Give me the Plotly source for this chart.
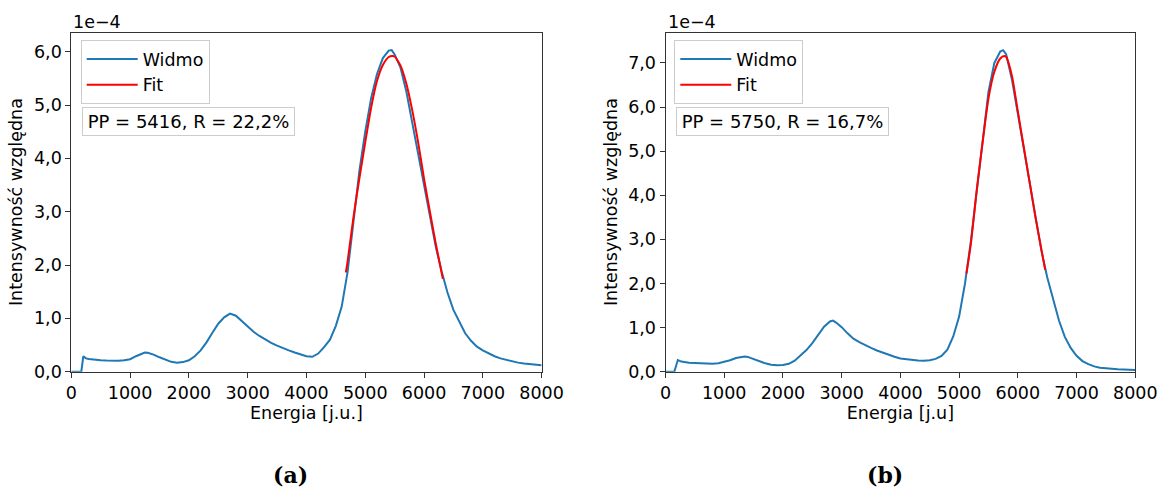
import plotly.graph_objects as go

# widmo (a) - energia [j.u.] i intensywnosc w jednostkach 1e-4
energia_a = [0, 170, 205, 250, 300, 400, 500, 600, 700, 800, 900, 1000, 1100, 1200, 1250, 1300,
             1400, 1500, 1600, 1700, 1800, 1900, 2000, 2100, 2200, 2300, 2400, 2500, 2600, 2700,
             2800, 2900, 3000, 3100, 3200, 3300, 3400, 3500, 3600, 3700, 3800, 3900, 4000, 4100,
             4200, 4300, 4400, 4500, 4600, 4700, 4800, 4900, 5000, 5100, 5200, 5300, 5400, 5450,
             5500, 5600, 5700, 5800, 5900, 6000, 6100, 6200, 6300, 6400, 6500, 6600, 6700, 6800,
             6900, 7000, 7100, 7200, 7300, 7400, 7500, 7600, 7700, 7800, 7900, 8000]
widmo_a = [0, 0, 0.29, 0.25, 0.24, 0.225, 0.215, 0.21, 0.205, 0.205, 0.215, 0.235, 0.29, 0.345, 0.36, 0.355,
           0.32, 0.27, 0.22, 0.185, 0.17, 0.18, 0.215, 0.29, 0.40, 0.55, 0.73, 0.90, 1.02, 1.09,
           1.05, 0.95, 0.84, 0.75, 0.67, 0.60, 0.54, 0.49, 0.44, 0.40, 0.36, 0.32, 0.29, 0.28,
           0.34, 0.46, 0.60, 0.86, 1.22, 1.87, 2.82, 3.76, 4.50, 5.13, 5.58, 5.88, 6.02, 6.03,
           5.95, 5.70, 5.25, 4.68, 4.10, 3.50, 2.90, 2.34, 1.88, 1.48, 1.16, 0.93, 0.72, 0.58,
           0.47, 0.40, 0.34, 0.29, 0.25, 0.22, 0.19, 0.17, 0.155, 0.14, 0.13, 0.12]

fit_a_x = [4670, 4700, 4800, 4900, 5000, 5100, 5200, 5300, 5400, 5460, 5500, 5600, 5700, 5800,
           5900, 6000, 6100, 6200, 6320]
fit_a_y = [1.86, 2.07, 2.90, 3.62, 4.30, 4.95, 5.45, 5.75, 5.90, 5.92, 5.91, 5.74, 5.40, 4.90,
           4.30, 3.62, 3.00, 2.40, 1.74]

# widmo (b)
energia_b = [0, 150, 210, 270, 400, 500, 600, 700, 800, 900, 1000, 1100, 1200, 1300, 1350, 1400,
             1500, 1600, 1700, 1800, 1900, 2000, 2100, 2200, 2300, 2400, 2500, 2600, 2700, 2800,
             2850, 2900, 3000, 3100, 3200, 3300, 3400, 3500, 3600, 3700, 3800, 3900, 4000, 4100,
             4200, 4300, 4400, 4500, 4600, 4700, 4800, 4900, 5000, 5100, 5200, 5300, 5400, 5500,
             5600, 5700, 5750, 5800, 5900, 6000, 6100, 6200, 6300, 6400, 6500, 6600, 6700, 6800,
             6900, 7000, 7100, 7200, 7300, 7400, 7500, 7600, 7700, 7800, 7900, 8000]
widmo_b = [0, 0, 0.265, 0.23, 0.205, 0.195, 0.19, 0.185, 0.18, 0.19, 0.22, 0.26, 0.31, 0.34, 0.345, 0.335,
           0.29, 0.23, 0.19, 0.16, 0.145, 0.15, 0.18, 0.25, 0.36, 0.49, 0.65, 0.83, 1.02, 1.14,
           1.16, 1.12, 1.01, 0.87, 0.75, 0.67, 0.60, 0.54, 0.48, 0.43, 0.38, 0.34, 0.30, 0.28,
           0.265, 0.255, 0.25, 0.26, 0.29, 0.36, 0.50, 0.80, 1.25, 2.00, 2.96, 4.10, 5.35, 6.35,
           7.00, 7.26, 7.29, 7.20, 6.62, 5.83, 5.10, 4.32, 3.50, 2.75, 2.14, 1.62, 1.16, 0.79,
           0.54, 0.36, 0.24, 0.17, 0.12, 0.09, 0.075, 0.065, 0.055, 0.05, 0.045, 0.04]

fit_b_x = [5125, 5200, 5300, 5400, 5500, 5600, 5700, 5770, 5800, 5900, 6000, 6100, 6200, 6300,
           6400, 6465]
fit_b_y = [2.23, 2.90, 4.12, 5.20, 6.20, 6.80, 7.10, 7.16, 7.14, 6.70, 5.90, 5.10, 4.30, 3.50,
           2.78, 2.31]

x_ticks = [0, 1000, 2000, 3000, 4000, 5000, 6000, 7000, 8000]
y_ticks_a = [0, 1, 2, 3, 4, 5, 6]
y_ticks_b = [0, 1, 2, 3, 4, 5, 6, 7]
y_labels_a = ["0,0", "1,0", "2,0", "3,0", "4,0", "5,0", "6,0"]
y_labels_b = ["0,0", "1,0", "2,0", "3,0", "4,0", "5,0", "6,0", "7,0"]
opisy = ["PP = 5416, R = 22,2%", "PP = 5750, R = 16,7%"]

FONT = "DejaVu Sans"
FS = 17.5
BLUE = "#1f77b4"

fig = go.Figure()

fig.add_trace(go.Scatter(x=energia_a, y=widmo_a, mode="lines", name="Widmo",
                         line=dict(color=BLUE, width=2), xaxis="x", yaxis="y", legend="legend"))
fig.add_trace(go.Scatter(x=fit_a_x, y=fit_a_y, mode="lines", name="Fit",
                         line=dict(color="red", width=2, shape="spline", smoothing=0.6),
                         xaxis="x", yaxis="y", legend="legend"))
fig.add_trace(go.Scatter(x=energia_b, y=widmo_b, mode="lines", name="Widmo",
                         line=dict(color=BLUE, width=2), xaxis="x2", yaxis="y2", legend="legend2"))
fig.add_trace(go.Scatter(x=fit_b_x, y=fit_b_y, mode="lines", name="Fit",
                         line=dict(color="red", width=2, shape="spline", smoothing=0.6),
                         xaxis="x2", yaxis="y2", legend="legend2"))

W, H = 1160, 489
dom_y = [1 - 371.7 / H, 1 - 32.5 / H]

axis_common = dict(showline=True, linecolor="#333", linewidth=1, mirror=True, ticks="outside",
                   ticklen=5, tickcolor="#333", showgrid=False, zeroline=False, automargin=False,
                   tickfont=dict(family=FONT, size=FS, color="black"))

legend_common = dict(yanchor="top", xanchor="left", y=1 - 40 / H,
                     bgcolor="rgba(255,255,255,0.8)", bordercolor="#cccccc", borderwidth=1,
                     itemwidth=51, font=dict(family=FONT, size=FS))

fig.update_layout(
    width=W, height=H,
    margin=dict(l=0, r=0, t=0, b=0),
    paper_bgcolor="white", plot_bgcolor="white",
    font=dict(family=FONT, size=FS, color="black"),
    xaxis=dict(domain=[71.3 / W, 541.6 / W], range=[0, 8000], anchor="y",
               tickvals=x_ticks, ticktext=[str(t) for t in x_ticks],
               title=dict(text="Energia [j.u.]", standoff=4, font=dict(family=FONT, size=FS)),
               **axis_common),
    yaxis=dict(domain=dom_y, range=[0, 6.36], anchor="x",
               tickvals=y_ticks_a, ticktext=y_labels_a,
               title=dict(text="Intensywność względna", standoff=6, font=dict(family=FONT, size=FS)),
               **axis_common),
    xaxis2=dict(domain=[665.5 / W, 1135.3 / W], range=[0, 8000], anchor="y2",
                tickvals=x_ticks, ticktext=[str(t) for t in x_ticks],
                title=dict(text="Energia [j.u]", standoff=4, font=dict(family=FONT, size=FS)),
                **axis_common),
    yaxis2=dict(domain=dom_y, range=[0, 7.69], anchor="x2",
                tickvals=y_ticks_b, ticktext=y_labels_b,
                title=dict(text="Intensywność względna", standoff=6, font=dict(family=FONT, size=FS)),
                **axis_common),
    legend=dict(x=80.7 / W, **legend_common),
    legend2=dict(x=674.3 / W, **legend_common),
)

# skala osi y i pola z wynikami dopasowania
for x0, opis in zip([71.3, 665.5], opisy):
    fig.add_annotation(x=x0 / W, y=1 - 34 / H, xref="paper", yref="paper", text="1e−4",
                       showarrow=False, xanchor="left", yanchor="bottom",
                       font=dict(family=FONT, size=FS))
    fig.add_annotation(x=(x0 + 10.4) / W, y=1 - 106.7 / H, xref="paper", yref="paper", text=opis,
                       showarrow=False, xanchor="left", yanchor="top", borderpad=3, width=205,
                       align="center", bordercolor="#cccccc", borderwidth=1,
                       bgcolor="rgba(255,255,255,0.8)", font=dict(family=FONT, size=18))

for xc, lit in zip([290, 885], ["(a)", "(b)"]):
    fig.add_annotation(x=xc / W, y=1 - 475 / H, xref="paper", yref="paper", text="<b>" + lit + "</b>",
                       showarrow=False, xanchor="center", yanchor="middle",
                       font=dict(family="DejaVu Serif", size=22))

# bez domyslnego marginesu strony, zeby wykres zaczynal sie w rogu okna
fig.write_html("out.html", config={"displayModeBar": False},
               post_script="document.body.style.margin='0';")
